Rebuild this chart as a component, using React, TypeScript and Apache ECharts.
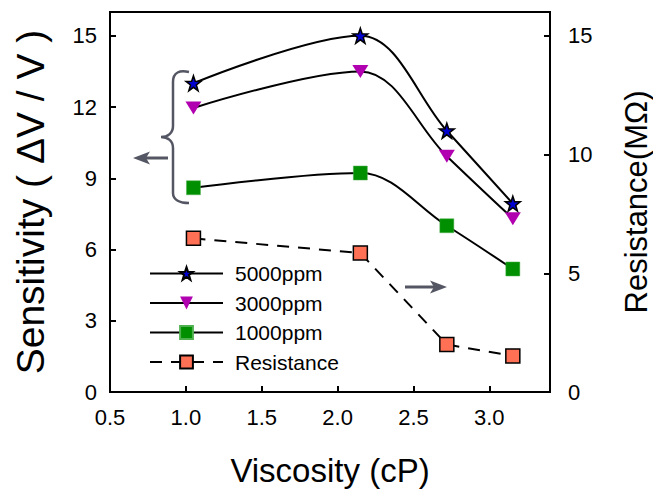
import React, { useEffect, useRef } from "react";
import * as echarts from "echarts";

const viscosity = [1.05, 2.15, 2.72, 3.155];
const sens5000 = [13.0, 15.0, 11.0, 7.93];
const sens3000 = [11.96, 13.5, 9.93, 7.3];
const sens1000 = [8.6, 9.22, 7.0, 5.18];
const resistance = [6.47, 5.85, 2.0, 1.52];
const seriesNames = ["5000ppm", "3000ppm", "1000ppm", "Resistance"];
const xAxisTitle = "Viscosity (cP)";
const leftTitle = "Sensitivity ( \u0394V / V )";
const rightTitle = "Resistance(M\u03A9)";

const FONT = "'Liberation Sans', Arial, sans-serif";
const STAR =
  "path://M12,0 L14.9,8.3 L24,8.5 L16.7,13.9 L19.4,22.6 L12,17.4 L4.6,22.6 L7.3,13.9 L0,8.5 L9.1,8.3 Z";
const GRAY = "#545663";

const BRACE_D =
  "M189,72 C180,70 173,72 173,82 L173,126 C173,133 168,137 161,137 C168,137 173,141 173,148 L173,193 C173,200 180,203 189,203";

let registered = false;
function registerShapes() {
  if (registered) return;
  echarts.graphic.registerShape("brace", echarts.graphic.extendPath(BRACE_D, {}) as any);
  registered = true;
}

const pairs = (ys: number[]) => viscosity.map((x, i) => [x, ys[i]]);

export default function App() {
  const ref = useRef<HTMLDivElement>(null);
  useEffect(() => {
    if (!ref.current) return;
    registerShapes();
    const chart = echarts.init(ref.current, null, { renderer: "svg" });
    const axisLine = { show: true, lineStyle: { color: "#000", width: 2 } };
    const axisTick = { show: true, inside: true, length: 6, lineStyle: { color: "#000", width: 2 } };
    const axisLabel = { color: "#000", fontSize: 22, fontFamily: FONT };
    chart.setOption({
      animation: false,
      backgroundColor: "#fff",
      grid: {
        left: 110,
        right: 103,
        top: 12,
        bottom: 104,
        outerBoundsMode: "none",
        containLabel: false,
        show: true,
        borderColor: "#000",
        borderWidth: 2,
      },
      legend: {
        orient: "vertical",
        left: 144,
        top: 258,
        itemWidth: 73,
        itemHeight: 16,
        itemGap: 8.5,
        data: seriesNames,
        textStyle: {
          color: "#000",
          fontSize: 21,
          fontFamily: FONT,
          lineHeight: 21,
          padding: [0, 0, 0, 7],
        },
      },
      xAxis: {
        type: "value",
        min: 0.5,
        max: 3.4,
        interval: 0.5,
        name: xAxisTitle,
        nameLocation: "middle",
        nameGap: 62,
        nameTextStyle: { color: "#000", fontSize: 33, fontFamily: FONT },
        axisLine,
        axisTick,
        axisLabel: {
          ...axisLabel,
          margin: 14,
          showMaxLabel: false,
          formatter: (v: number) => v.toFixed(1),
        },
        splitLine: { show: false },
      },
      yAxis: [
        {
          type: "value",
          min: 0,
          max: 16,
          interval: 3,
          name: leftTitle,
          nameLocation: "middle",
          nameGap: 60,
          nameTextStyle: { color: "#000", fontSize: 39, fontFamily: FONT },
          axisLine,
          axisTick,
          axisLabel: { ...axisLabel, margin: 13, showMaxLabel: false },
          splitLine: { show: false },
        },
        {
          type: "value",
          position: "right",
          min: 0,
          max: 16,
          interval: 5,
          name: rightTitle,
          nameLocation: "middle",
          nameGap: 71,
          nameTextStyle: { color: "#000", fontSize: 31, fontFamily: FONT },
          axisLine,
          axisTick,
          axisLabel: { ...axisLabel, margin: 18, showMaxLabel: false },
          splitLine: { show: false },
        },
      ],
      series: [
        {
          name: seriesNames[0],
          type: "line",
          data: pairs(sens5000),
          smooth: 0.35,
          symbol: STAR,
          symbolSize: 15,
          lineStyle: { color: "#000", width: 2 },
          itemStyle: { color: "#0000d0", borderColor: "#000", borderWidth: 1.5 },
          z: 5,
        },
        {
          name: seriesNames[1],
          type: "line",
          data: pairs(sens3000),
          smooth: 0.35,
          symbol: "triangle",
          symbolRotate: 180,
          symbolSize: [16, 13],
          lineStyle: { color: "#000", width: 2 },
          itemStyle: { color: "#b000b0", borderWidth: 0 },
          z: 4,
        },
        {
          name: seriesNames[2],
          type: "line",
          data: pairs(sens1000),
          smooth: 0.35,
          symbol: "rect",
          symbolSize: 14,
          lineStyle: { color: "#000", width: 2 },
          itemStyle: { color: "#008f00", borderColor: "#4fb04f", borderWidth: 0.5 },
          z: 3,
        },
        {
          name: seriesNames[3],
          type: "line",
          yAxisIndex: 1,
          data: pairs(resistance),
          symbol: "rect",
          symbolSize: 14,
          lineStyle: { color: "#000", width: 2, type: [12, 9] },
          itemStyle: { color: "#ff7055", borderColor: "#000", borderWidth: 1.5 },
          z: 3,
        },
      ],
      graphic: [
        {
          type: "brace",
          x: 0,
          y: 0,
          z: 10,
          style: { fill: "none", stroke: GRAY, lineWidth: 2.5 },
        },
        {
          type: "line",
          z: 10,
          shape: { x1: 146, y1: 158, x2: 168, y2: 158 },
          style: { stroke: GRAY, lineWidth: 3 },
        },
        {
          type: "polygon",
          z: 10,
          shape: { points: [[133, 158], [150, 151.5], [146, 158], [150, 164.5]] },
          style: { fill: GRAY },
        },
        {
          type: "line",
          z: 10,
          shape: { x1: 405, y1: 287, x2: 434, y2: 287 },
          style: { stroke: GRAY, lineWidth: 3 },
        },
        {
          type: "polygon",
          z: 10,
          shape: { points: [[447, 287], [430, 280.5], [434, 287], [430, 293.5]] },
          style: { fill: GRAY },
        },
      ],
    });
    return () => chart.dispose();
  }, []);
  return (
    <div
      ref={ref}
      style={{ position: "fixed", left: 0, top: 0, width: 653, height: 496, background: "#fff" }}
    />
  );
}
